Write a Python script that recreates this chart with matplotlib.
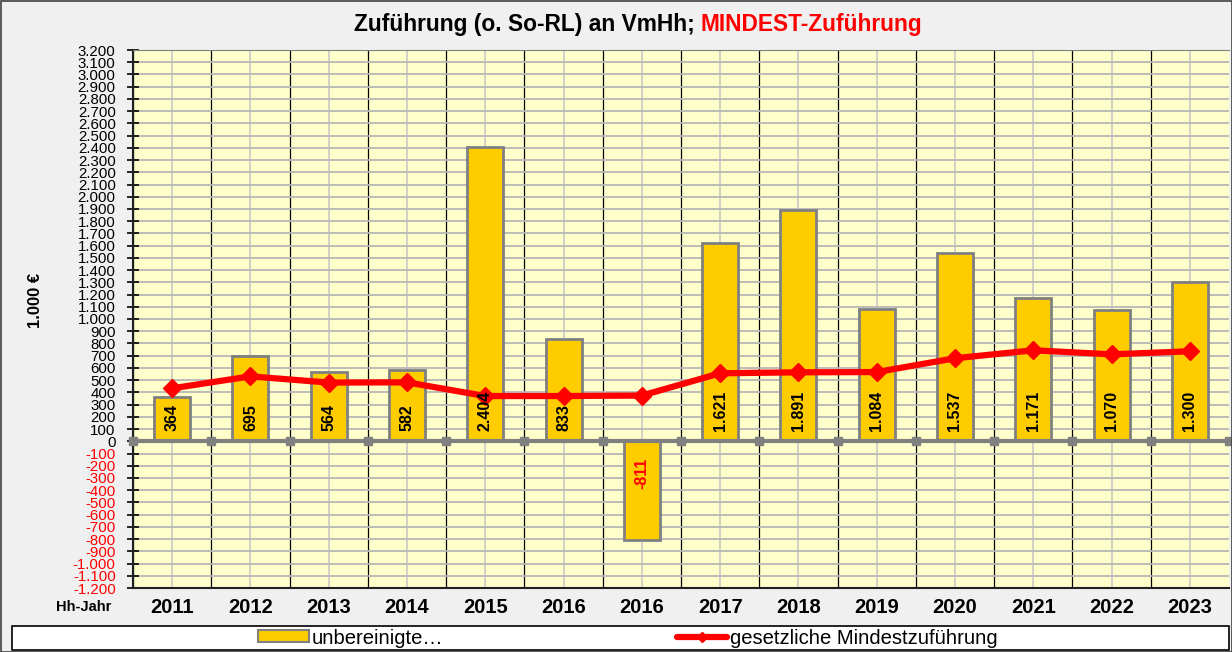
import numpy as np
import matplotlib.pyplot as plt
from matplotlib.patches import Rectangle, Patch
from matplotlib.lines import Line2D

plt.rcParams['font.family'] = ['Liberation Sans', 'DejaVu Sans']

# data (1.000 EUR)
years = ['2011', '2012', '2013', '2014', '2015', '2016', '2016', '2017',
         '2018', '2019', '2020', '2021', '2022', '2023']
zufuehrung = [364, 695, 564, 582, 2404, 833, -811, 1621, 1891, 1084, 1537, 1171, 1070, 1300]
bar_labels = ['364', '695', '564', '582', '2.404', '833', '-811', '1.621', '1.891',
              '1.084', '1.537', '1.171', '1.070', '1.300']
mindest = [433, 531, 480, 482, 370, 370, 374, 556, 564, 566, 679, 744, 711, 736]

y_ticks = np.arange(-1200, 3201, 100)


def de_fmt(v):
    return '{:,}'.format(int(v)).replace(',', '.')


fig = plt.figure(figsize=(12.32, 6.52), dpi=100, facecolor='#F0F0F0')
ax = fig.add_axes([133 / 1232, 1 - 588 / 652, 1096 / 1232, 538 / 652])
ax.set_facecolor('#FFFFCC')

x = np.arange(len(years))
ax.bar(x, zufuehrung, width=0.46, color='#FFCC00', edgecolor='#808080',
       linewidth=2, zorder=3)
ax.plot(x, mindest, color='#FF0000', linewidth=4.5, marker='D', markersize=9,
        solid_joinstyle='round', solid_capstyle='round', zorder=5)

# labels inside bar base
for xi, v, lab in zip(x, zufuehrung, bar_labels):
    if v >= 0:
        ax.text(xi, 80, lab, rotation=90, ha='center', va='bottom',
                fontsize=11.5, fontweight='bold', color='black', zorder=6)
    else:
        ax.text(xi, -135, lab, rotation=90, ha='center', va='top',
                fontsize=11.5, fontweight='bold', color='#FF0000', zorder=6)

ax.set_xlim(-0.5, len(years) - 0.5)
ax.set_ylim(-1200, 3200)

# grid
ax.set_yticks(y_ticks)
ax.set_yticklabels([de_fmt(v) for v in y_ticks], fontsize=10.8)
for lab, v in zip(ax.get_yticklabels(), y_ticks):
    if v < 0:
        lab.set_color('#FF0000')
ax.yaxis.grid(True, color='#B8B8B8', linewidth=1.3, zorder=0)
ax.set_xticks(x - 0.5, minor=False)
ax.set_xticklabels([])
ax.set_xticks(x, minor=True)
ax.set_xticklabels(years, minor=True, fontsize=14.5, fontweight='bold')
ax.xaxis.grid(True, which='major', color='black', linewidth=0.9, zorder=1)
ax.xaxis.grid(True, which='minor', color='#C8C8C8', linewidth=1.2, zorder=1)
ax.set_axisbelow(True)
ax.tick_params(axis='y', direction='inout', length=9, width=1.2, pad=8)
ax.tick_params(axis='x', which='both', length=0, pad=7)

# zero line with boundary ticks
ax.axhline(0, color='#808080', linewidth=3, zorder=4)
ax.plot(np.arange(len(years) + 1) - 0.5, np.zeros(len(years) + 1), linestyle='none',
        marker='s', markersize=5.5, color='#808080', clip_on=False, zorder=4)

for side in ['left', 'bottom']:
    ax.spines[side].set_color('#202020')
    ax.spines[side].set_linewidth(1.5)
ax.spines['top'].set_color('#808080')
ax.spines['right'].set_visible(False)

# titles
fig.text(695 / 1232, 1 - 24 / 652, 'Zuführung (o. So-RL) an VmHh;', ha='right', va='center',
         fontsize=16.4, fontweight='bold', color='black')
fig.text(700 / 1232, 1 - 24 / 652, 'MINDEST-Zuführung', ha='left', va='center',
         fontsize=16.4, fontweight='bold', color='#FF0000')
fig.text(35 / 1232, 1 - 300 / 652, '1.000 €', rotation=90, ha='center', va='center',
         fontsize=12, fontweight='bold')
fig.text(84 / 1232, 1 - 607 / 652, 'Hh-Jahr', ha='center', va='center',
         fontsize=10.5, fontweight='bold')

# legend box
fig.patches.append(Rectangle((12 / 1232, 1 - 650 / 652), 1217 / 1232, 24 / 652,
                             transform=fig.transFigure, facecolor='white',
                             edgecolor='black', linewidth=1.2))
handles = [Patch(facecolor='#FFCC00', edgecolor='#808080', linewidth=1.5),
           Line2D([], [], color='#FF0000', linewidth=4.5, marker='D', markersize=5,
                  solid_capstyle='round')]
fig.legend(handles, ['unbereinigte…', 'gesetzliche Mindestzuführung'], ncol=2,
           loc='center left', bbox_to_anchor=(258 / 1232, 1 - 638 / 652), frameon=False,
           fontsize=14.6, handlelength=2.5, handleheight=0.55, handletextpad=0.15,
           columnspacing=11.5, borderaxespad=0, borderpad=0)

# outer border
fig.patches.append(Rectangle((0.5 / 1232, 0.5 / 652), 1 - 1 / 1232, 1 - 1 / 652,
                             transform=fig.transFigure, fill=False,
                             edgecolor='#404040', linewidth=1.2))

fig.savefig('out.png', dpi=100, facecolor=fig.get_facecolor())
